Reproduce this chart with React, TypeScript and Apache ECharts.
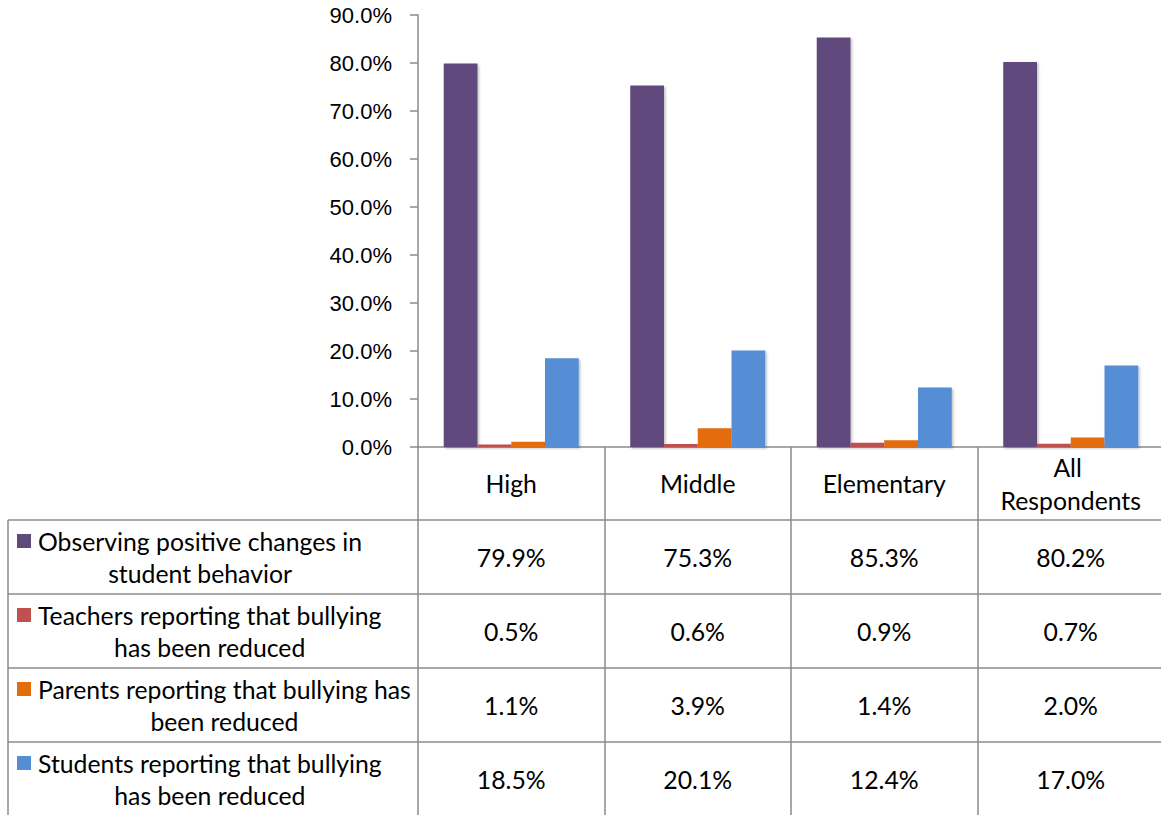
import React, { useEffect, useRef } from "react";
import * as echarts from "echarts";

const categories = ["High", "Middle", "Elementary", "All Respondents"];
const seriesLabelLines = [
  ["Observing positive changes in", "student behavior"],
  ["Teachers reporting that bullying", "has been reduced"],
  ["Parents reporting that bullying has", "been reduced"],
  ["Students reporting that bullying", "has been reduced"],
];
const observing = [79.9, 75.3, 85.3, 80.2];
const teachers = [0.5, 0.6, 0.9, 0.7];
const parents = [1.1, 3.9, 1.4, 2.0];
const students = [18.5, 20.1, 12.4, 17.0];
const seriesValues = [observing, teachers, parents, students];
const seriesColors = ["#604A7B", "#C0504D", "#E46C0A", "#558ED5"];
const yMin = 0;
const yMax = 90;
const yInterval = 10;

const W = 1161;
const H = 815;
const GRID_LEFT = 418;
const GRID_TOP = 15;
const GRID_W = 746;
const GRID_H = 432;
const TABLE_LEFT = 8;
const HEADER_H = 73;
const ROW_H = 74;
const LINE_COLOR = "#8B8B8B";
const TABLE_FONT = "Lato";

function measure(text: string, font: string): number {
  const ctx = document.createElement("canvas").getContext("2d");
  if (!ctx) return text.length * 10;
  ctx.font = font;
  return ctx.measureText(text).width;
}

export default function App() {
  const ref = useRef<HTMLDivElement>(null);
  useEffect(() => {
    if (!ref.current) return;
    const chart = echarts.init(ref.current, undefined, { renderer: "svg", width: W, height: H });

    // choose table font size so the widest label line matches the reference width (~373px)
    const base = 25;
    const wRef = measure(seriesLabelLines[2][0], `${base}px ${TABLE_FONT}`);
    const fs = Math.max(16, Math.min(26, (base * 373) / wRef));

    const axisY = GRID_TOP + GRID_H;
    const headerBottom = axisY + HEADER_H;

    chart.setOption({
      animation: false,
      grid: {
        left: GRID_LEFT,
        top: GRID_TOP,
        width: GRID_W,
        height: GRID_H,
        containLabel: false,
        outerBoundsMode: "none",
      },
      xAxis: {
        type: "category",
        data: categories,
        axisLine: { show: true, lineStyle: { color: LINE_COLOR, width: 1.5 } },
        axisTick: {
          show: true,
          interval: 0,
          length: H - axisY + 5,
          lineStyle: { color: LINE_COLOR, width: 1.5 },
        },
        axisLabel: {
          interval: 0,
          margin: HEADER_H / 2,
          verticalAlign: "middle",
          fontFamily: TABLE_FONT,
          fontSize: fs,
          lineHeight: 33,
          color: "#000",
          width: 150,
          overflow: "break",
        },
        splitLine: { show: false },
      },
      yAxis: {
        type: "value",
        min: yMin,
        max: yMax,
        interval: yInterval,
        axisLine: { show: true, lineStyle: { color: LINE_COLOR, width: 1.5 } },
        axisTick: { show: true, length: 8, lineStyle: { color: LINE_COLOR, width: 1.5 } },
        splitLine: { show: false },
        axisLabel: {
          formatter: (v: number) => v.toFixed(1) + "%",
          fontFamily: "Liberation Sans",
          fontSize: 22,
          color: "#000",
          margin: 26,
        },
      },
      series: seriesValues.map((vals, i) => ({
        type: "bar",
        name: seriesLabelLines[i].join(" "),
        data: vals,
        barGap: "0%",
        barCategoryGap: "27.6%",
        itemStyle: {
          color: seriesColors[i],
          shadowBlur: 2,
          shadowOffsetX: 1.5,
          shadowOffsetY: 1.5,
          shadowColor: "rgba(0,0,0,0.25)",
        },
      })),
    });

    const colCenters = categories.map((c) => chart.convertToPixel({ xAxisIndex: 0 }, c) as number);
    const gfx: any[] = [];
    // horizontal row lines
    for (let i = 0; i < seriesValues.length; i++) {
      const y = headerBottom + i * ROW_H;
      gfx.push({
        type: "line",
        shape: { x1: TABLE_LEFT, y1: y, x2: W + 5, y2: y },
        style: { stroke: LINE_COLOR, lineWidth: 1.5 },
        silent: true,
      });
    }
    gfx.push({
      type: "line",
      shape: { x1: TABLE_LEFT, y1: headerBottom, x2: TABLE_LEFT, y2: H + 5 },
      style: { stroke: LINE_COLOR, lineWidth: 1.5 },
      silent: true,
    });
    const labelFont = `${fs}px ${TABLE_FONT}`;
    seriesValues.forEach((vals, i) => {
      const rowCenter = headerBottom + i * ROW_H + ROW_H / 2;
      const lines = seriesLabelLines[i];
      const blockW = Math.max(...lines.map((l) => measure(l, labelFont)));
      gfx.push({
        type: "rect",
        shape: { x: 17, y: rowCenter - 16 - 7, width: 14, height: 14 },
        style: { fill: seriesColors[i] },
        silent: true,
      });
      gfx.push({
        type: "text",
        x: 38 + blockW / 2,
        y: rowCenter,
        style: {
          text: lines.join("\n"),
          fontFamily: TABLE_FONT,
          fontSize: fs,
          lineHeight: 32,
          fill: "#000",
          align: "center",
          verticalAlign: "middle",
        },
        silent: true,
      });
      vals.forEach((v, j) => {
        gfx.push({
          type: "text",
          x: colCenters[j],
          y: rowCenter,
          style: {
            text: v.toFixed(1) + "%",
            fontFamily: TABLE_FONT,
            fontSize: fs,
            fill: "#000",
            align: "center",
            verticalAlign: "middle",
          },
          silent: true,
        });
      });
    });
    chart.setOption({ graphic: { elements: gfx } });

    return () => chart.dispose();
  }, []);

  return (
    <div
      ref={ref}
      style={{ position: "fixed", left: 0, top: 0, width: W, height: H, background: "#fff" }}
    />
  );
}
